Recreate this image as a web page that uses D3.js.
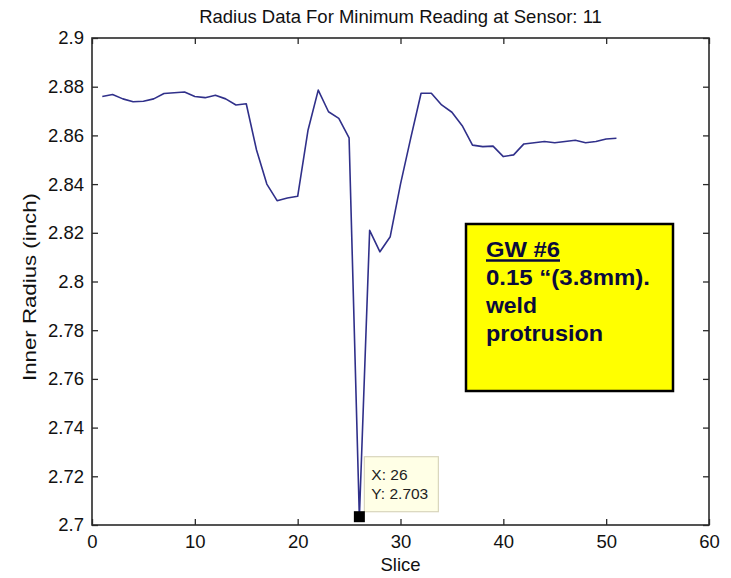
<!DOCTYPE html>
<html>
<head>
<meta charset="utf-8">
<script src="https://cdn.jsdelivr.net/npm/d3@7"></script>
<style>
html,body{margin:0;padding:0;background:#fff;}
svg{display:block;}
text{font-family:"Liberation Sans",Arial,Helvetica,sans-serif;}
</style>
</head>
<body>
<svg id="chart" width="731" height="578"></svg>
<script>
const slices = [1,2,3,4,5,6,7,8,9,10,11,12,13,14,15,16,17,18,19,20,21,22,23,24,25,26,27,28,29,30,31,32,33,34,35,36,37,38,39,40,41,42,43,44,45,46,47,48,49,50,51];
const radius = [2.876,2.8768,2.875,2.8738,2.874,2.875,2.8772,2.8775,2.8778,2.876,2.8755,2.8765,2.875,2.8725,2.873,2.854,2.840,2.8332,2.8343,2.835,2.862,2.8786,2.8697,2.867,2.859,2.703,2.821,2.8122,2.8184,2.840,2.859,2.8773,2.8773,2.8725,2.8695,2.864,2.856,2.8554,2.8556,2.8513,2.852,2.8565,2.857,2.8575,2.857,2.8575,2.858,2.857,2.8575,2.8585,2.8588];
const xTicks = [0,10,20,30,40,50,60];
const yTicks = [2.7,2.72,2.74,2.76,2.78,2.8,2.82,2.84,2.86,2.88,2.9];
const yTickLabels = ["2.7","2.72","2.74","2.76","2.78","2.8","2.82","2.84","2.86","2.88","2.9"];
const title = "Radius Data For Minimum Reading at Sensor: 11";
const xLabel = "Slice";
const yLabel = "Inner Radius (inch)";
const tipX = 26, tipY = 2.703;
const noteLines = ["GW #6", "0.15 \u201C(3.8mm).", "weld", "protrusion"];

const svg = d3.select("#chart");
const L = 92, R = 709, T = 38, B = 525;
const x = d3.scaleLinear().domain([0,60]).range([L,R]);
const y = d3.scaleLinear().domain([2.7,2.9]).range([B,T]);
const axisColor = "#2a2a2a";
const tickLen = 6;

// title
svg.append("text").attr("x", (L+R)/2).attr("y", 23).attr("text-anchor","middle")
  .attr("font-size", 18.5).attr("fill","#111").text(title);

// axes box
const g = svg.append("g");
const fmtY = d => yTickLabels[yTicks.indexOf(d)];
g.append("g").attr("transform",`translate(0,${B})`)
  .call(d3.axisBottom(x).tickValues(xTicks).tickSize(-tickLen).tickPadding(10).tickFormat(d3.format("d")))
  .call(s=>{s.select(".domain").remove();s.selectAll("text").attr("font-size",18.5).attr("fill","#111").attr("font-family",null);});
g.append("g").attr("transform",`translate(0,${T})`)
  .call(d3.axisTop(x).tickValues(xTicks).tickSize(-tickLen).tickFormat(""))
  .call(s=>s.select(".domain").remove());
g.append("g").attr("transform",`translate(${L},0)`)
  .call(d3.axisLeft(y).tickValues(yTicks).tickSize(-tickLen).tickPadding(8).tickFormat(fmtY))
  .call(s=>{s.select(".domain").remove();s.selectAll("text").attr("font-size",18.5).attr("fill","#111").attr("font-family",null);});
g.append("g").attr("transform",`translate(${R},0)`)
  .call(d3.axisRight(y).tickValues(yTicks).tickSize(-tickLen).tickFormat(""))
  .call(s=>s.select(".domain").remove());
g.selectAll(".tick line").attr("stroke",axisColor).attr("stroke-width",1.3);
g.append("rect").attr("x",L).attr("y",T).attr("width",R-L).attr("height",B-T)
  .attr("fill","none").attr("stroke",axisColor).attr("stroke-width",1.6);

// axis labels
svg.append("text").attr("x",(L+R)/2).attr("y",571).attr("text-anchor","middle")
  .attr("font-size",18.5).attr("fill","#111").text(xLabel);
svg.append("text").attr("transform",`translate(36,287) rotate(-90)`).attr("text-anchor","middle")
  .attr("font-size",18.5).attr("fill","#111")
  .attr("textLength",188).attr("lengthAdjust","spacingAndGlyphs").text(yLabel);

// line
const line = d3.line().x((d,i)=>x(slices[i])).y(d=>y(d));
svg.append("path").datum(radius).attr("d",line).attr("fill","none")
  .attr("stroke","#30308a").attr("stroke-width",1.6).attr("stroke-linejoin","round");

// datatip
const px = x(tipX), py = y(tipY);
svg.append("rect").attr("x",px+5).attr("y",py-61).attr("width",74).attr("height",55)
  .attr("fill","#ffffe6").attr("stroke","#d9d6bc").attr("stroke-width",1.2);
svg.append("text").attr("x",px+12).attr("y",py-38).attr("font-size",15.5).attr("fill","#222").text("X: " + tipX);
svg.append("text").attr("x",px+12).attr("y",py-19).attr("font-size",15.5).attr("fill","#222").text("Y: " + tipY);
svg.append("rect").attr("x",px-5.5).attr("y",py-6.5).attr("width",11).attr("height",11).attr("fill","#000");

// annotation box
svg.append("rect").attr("x",466).attr("y",224).attr("width",207).attr("height",167)
  .attr("fill","#ffff00").attr("stroke","#000").attr("stroke-width",2.5);
const noteBase = [257,285,313,341];
const noteWidths = [74,164,51,117];
noteLines.forEach((t,i)=>{
  svg.append("text").attr("x",486).attr("y",noteBase[i]).attr("font-size",22).attr("font-weight","bold")
    .attr("fill","#0a0a3c").attr("textLength",noteWidths[i]).attr("lengthAdjust","spacingAndGlyphs").text(t);
});
svg.append("line").attr("x1",486).attr("x2",560).attr("y1",260.5).attr("y2",260.5)
  .attr("stroke","#0a0a3c").attr("stroke-width",2.5);
</script>
</body>
</html>
